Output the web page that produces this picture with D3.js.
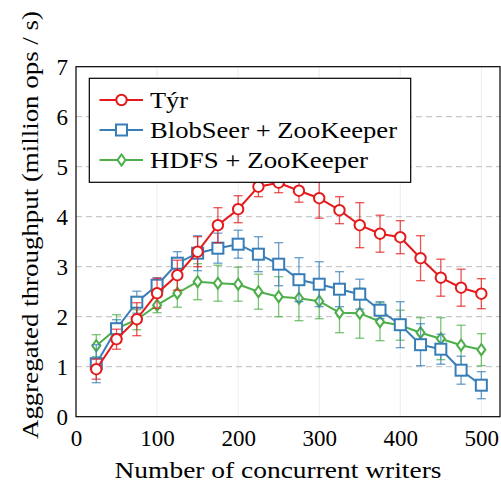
<!DOCTYPE html>
<html><head><meta charset="utf-8">
<script src="https://cdn.jsdelivr.net/npm/d3@7"></script>
</head><body style="margin:0"><svg id="c" width="501" height="483" font-family="Liberation Serif"></svg>
<script>
const writers = [25,50,75,100,125,150,175,200,225,250,275,300,325,350,375,400,425,450,475,500];
const tyrValues = [0.95,1.55,1.95,2.47,2.83,3.3,3.83,4.15,4.6,4.68,4.52,4.37,4.13,3.83,3.66,3.59,3.17,2.78,2.58,2.46];
const tyrErrors = [0.2,0.2,0.33,0.3,0.3,0.3,0.35,0.27,0.2,0.2,0.23,0.4,0.27,0.45,0.37,0.33,0.45,0.37,0.37,0.3];
const blobValues = [1.06,1.76,2.29,2.63,3.07,3.27,3.37,3.45,3.25,3.05,2.74,2.65,2.55,2.45,2.13,1.84,1.44,1.35,0.93,0.63];
const blobErrors = [0.38,0.18,0.22,0.15,0.23,0.35,0.3,0.28,0.35,0.43,0.44,0.45,0.35,0.3,0.17,0.46,0.42,0.3,0.28,0.27];
const hdfsValues = [1.42,1.76,1.94,2.23,2.47,2.7,2.67,2.65,2.5,2.4,2.37,2.31,2.08,2.07,1.9,1.83,1.68,1.56,1.43,1.34];
const hdfsErrors = [0.22,0.28,0.2,0.15,0.28,0.36,0.36,0.34,0.35,0.4,0.45,0.35,0.4,0.5,0.38,0.3,0.3,0.42,0.4,0.32];
const seriesNames = ["Týr","BlobSeer + ZooKeeper","HDFS + ZooKeeper"];
const seriesColors = ["#e41a1c","#377eb8","#4daf4a"];
const xTicks = [0,100,200,300,400,500];
const yTicks = [0,1,2,3,4,5,6,7];
const xTitle = "Number of concurrent writers";
const yTitle = "Aggregated throughput (million ops / s)";

const svg = d3.select("#c");
const FONT = "\"Liberation Serif\"";
const L=76,R=500,T=66.7,B=416.7;
const x = d3.scaleLinear().domain([0,523]).range([L,R]);
const y = d3.scaleLinear().domain([0,7]).range([B,T]);
function setFont(sel){ return sel.attr("font-family","Liberation Serif").style("font-family",FONT).attr("font-size",23).attr("fill","#000"); }

svg.append("rect").attr("width",501).attr("height",483).attr("fill","#fff");

// grid
svg.append("g").selectAll("line").data(xTicks.slice(1)).join("line")
  .attr("x1",d=>x(d)).attr("x2",d=>x(d)).attr("y1",T).attr("y2",B)
  .attr("stroke","#ececec").attr("stroke-width",1);
svg.append("g").selectAll("line").data(yTicks.slice(1,-1)).join("line")
  .attr("x1",L).attr("x2",R).attr("y1",d=>y(d)).attr("y2",d=>y(d))
  .attr("stroke","#bdbdbd").attr("stroke-width",1).attr("stroke-dasharray","6,4");

// axes
const xAxis = svg.append("g").attr("transform",`translate(0,${B})`)
  .call(d3.axisBottom(x).tickValues(xTicks).tickFormat(d3.format("d")).tickSize(0).tickPadding(15));
const yAxis = svg.append("g").attr("transform",`translate(${L},0)`)
  .call(d3.axisLeft(y).tickValues(yTicks).tickFormat(d3.format("d")).tickSize(0).tickPadding(8));
[xAxis,yAxis].forEach(a=>{a.attr("font-family","Liberation Serif").attr("font-size",23);a.select(".domain").remove();setFont(a.selectAll("text"));});
xAxis.selectAll("text").attr("dy","0.62em");
yAxis.selectAll("text").attr("dy","0.34em");
svg.append("rect").attr("x",L).attr("y",T).attr("width",R-L).attr("height",B-T)
  .attr("fill","none").attr("stroke","#000").attr("stroke-width",1.2);

const series = [
  {name:seriesNames[0],vals:tyrValues,errs:tyrErrors,color:seriesColors[0],marker:"circle"},
  {name:seriesNames[1],vals:blobValues,errs:blobErrors,color:seriesColors[1],marker:"square"},
  {name:seriesNames[2],vals:hdfsValues,errs:hdfsErrors,color:seriesColors[2],marker:"diamond"}
];
function drawMarker(g,type,color){
  if(type==="circle") g.append("circle").attr("r",5.2);
  else if(type==="square") g.append("rect").attr("x",-5.5).attr("y",-5.5).attr("width",11).attr("height",11);
  else g.append("path").attr("d","M0,-5.5L4,0L0,5.5L-4,0Z");
  g.selectAll("*").attr("fill","#fff").attr("stroke",color).attr("stroke-width",2);
}
const order=[2,1,0];
order.forEach(i=>{
  const s=series[i];
  const g=svg.append("g");
  const data=writers.map((w,k)=>({w,v:s.vals[k],e:s.errs[k]}));
  const eb=g.append("g").attr("stroke",s.color).attr("stroke-width",1.3).attr("stroke-opacity",0.75);
  data.forEach(d=>{
    eb.append("line").attr("x1",x(d.w)).attr("x2",x(d.w)).attr("y1",y(d.v-d.e)).attr("y2",y(d.v+d.e));
    eb.append("line").attr("x1",x(d.w)-4.5).attr("x2",x(d.w)+4.5).attr("y1",y(d.v-d.e)).attr("y2",y(d.v-d.e));
    eb.append("line").attr("x1",x(d.w)-4.5).attr("x2",x(d.w)+4.5).attr("y1",y(d.v+d.e)).attr("y2",y(d.v+d.e));
  });
  g.append("path").datum(data).attr("fill","none").attr("stroke",s.color).attr("stroke-width",2)
    .attr("d",d3.line().x(d=>x(d.w)).y(d=>y(d.v)));
  data.forEach(d=>{drawMarker(g.append("g").attr("transform",`translate(${x(d.w)},${y(d.v)})`),s.marker,s.color);});
});

// legend
const legendLengths=[38,247,218];
const lg=svg.append("g");
lg.append("rect").attr("x",89.3).attr("y",78.3).attr("width",321.4).attr("height",104).attr("fill","#fff").attr("stroke","#000").attr("stroke-width",1.2);
series.forEach((s,i)=>{
  const cy=100+i*30;
  lg.append("line").attr("x1",99.5).attr("x2",143).attr("y1",cy).attr("y2",cy).attr("stroke",s.color).attr("stroke-width",2);
  drawMarker(lg.append("g").attr("transform",`translate(121.5,${cy})`),s.marker,s.color);
  setFont(lg.append("text")).attr("x",150).attr("y",cy).attr("dy","0.34em")
    .attr("textLength",legendLengths[i]).attr("lengthAdjust","spacingAndGlyphs").text(s.name);
});

// labels
setFont(svg.append("text")).attr("x",278).attr("y",478).attr("text-anchor","middle")
  .attr("textLength",327).attr("lengthAdjust","spacingAndGlyphs").text(xTitle);
setFont(svg.append("text")).attr("transform","translate(38,225) rotate(-90)").attr("text-anchor","middle")
  .attr("textLength",428).attr("lengthAdjust","spacingAndGlyphs").text(yTitle);
</script></body></html>
